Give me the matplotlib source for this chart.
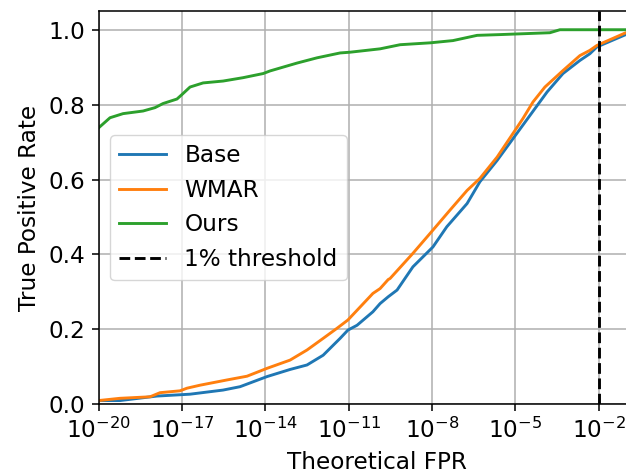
import numpy as np
import matplotlib
matplotlib.use("Agg")
import matplotlib.pyplot as plt

# log10 of theoretical FPR and TPR
base_logfpr = [-20.0, -19.23, -17.90, -16.71, -15.52, -14.91, -13.94, -13.11, -12.50, -11.92,
               -11.31, -11.03, -10.70, -10.13, -9.87, -9.58, -9.26, -8.69, -7.97, -7.47,
               -6.74, -6.28, -5.66, -5.09, -4.48, -3.86, -3.29, -2.68, -2.32, -2.07, -1.03, 0.0]
base_tpr = [0.010, 0.010, 0.022, 0.027, 0.038, 0.047, 0.074, 0.093, 0.105, 0.131,
            0.176, 0.198, 0.211, 0.247, 0.269, 0.287, 0.305, 0.367, 0.420, 0.474,
            0.536, 0.594, 0.651, 0.709, 0.771, 0.834, 0.883, 0.918, 0.936, 0.954, 0.987, 1.0]

wmar_logfpr = [-20.0, -19.23, -18.15, -17.79, -17.07, -16.82, -16.35, -15.38, -14.66, -13.94,
               -13.11, -12.50, -11.92, -11.42, -11.03, -10.70, -10.13, -9.87, -9.58, -9.51,
               -8.69, -7.97, -7.36, -6.74, -6.28, -5.66, -5.09, -4.73, -4.37, -3.94,
               -3.29, -2.68, -2.32, -2.07, -1.03, 0.0]
wmar_tpr = [0.010, 0.016, 0.020, 0.031, 0.036, 0.043, 0.051, 0.065, 0.075, 0.096,
            0.118, 0.145, 0.176, 0.203, 0.225, 0.251, 0.296, 0.309, 0.333, 0.336,
            0.403, 0.465, 0.518, 0.571, 0.603, 0.660, 0.723, 0.763, 0.807, 0.847,
            0.891, 0.931, 0.945, 0.958, 0.992, 1.0]

ours_logfpr = [-20.0, -19.59, -19.12, -18.40, -17.97, -17.68, -17.18, -17.00, -16.71, -16.24,
               -15.52, -14.80, -14.08, -13.83, -12.86, -12.14, -11.31, -10.95, -9.87, -9.15,
               -8.07, -7.25, -6.38, -5.56, -3.76, -3.40, 0.0]
ours_tpr = [0.738, 0.765, 0.776, 0.783, 0.792, 0.803, 0.815, 0.827, 0.847, 0.858,
            0.863, 0.872, 0.883, 0.890, 0.911, 0.925, 0.938, 0.940, 0.949, 0.960,
            0.965, 0.971, 0.985, 0.987, 0.992, 1.0, 1.0]

threshold = 1e-2
xticks = [1e-20, 1e-17, 1e-14, 1e-11, 1e-8, 1e-5, 1e-2]
yticks = [0.0, 0.2, 0.4, 0.6, 0.8, 1.0]

k = 1.389  # scale of the original rendering relative to 100 dpi
fs = 12 * k

fig = plt.figure(figsize=(6.26, 4.74), dpi=100)
ax = fig.add_axes([98.6 / 626, 69.7 / 474, (654.4 - 98.6) / 626, (404.3 - 11) / 474])

lw = 1.5 * k
ax.plot(10.0 ** np.array(base_logfpr), base_tpr, color="#1f77b4", lw=lw, label="Base")
ax.plot(10.0 ** np.array(wmar_logfpr), wmar_tpr, color="#ff7f0e", lw=lw, label="WMAR")
ax.plot(10.0 ** np.array(ours_logfpr), ours_tpr, color="#2ca02c", lw=lw, label="Ours")
ax.axvline(threshold, color="black", ls="--", lw=lw, label="1% threshold")

ax.set_xscale("log")
ax.set_xlim(1e-20, 1e0)
ax.set_ylim(0, 1.05)
ax.set_xticks(xticks)
ax.xaxis.set_minor_locator(matplotlib.ticker.NullLocator())
ax.set_yticks(yticks)
ax.tick_params(labelsize=fs, width=0.8 * k, length=3.5 * k, pad=3.5 * k)
for s in ax.spines.values():
    s.set_linewidth(0.8 * k)
ax.grid(True, color="#b0b0b0", lw=0.8 * k)
ax.set_xlabel("Theoretical FPR", fontsize=fs, labelpad=4 * k)
ax.set_ylabel("True Positive Rate", fontsize=fs, labelpad=4 * k)
ax.legend(loc="center left", fontsize=fs, borderaxespad=0.5)

fig.savefig("out.png", dpi=100)
